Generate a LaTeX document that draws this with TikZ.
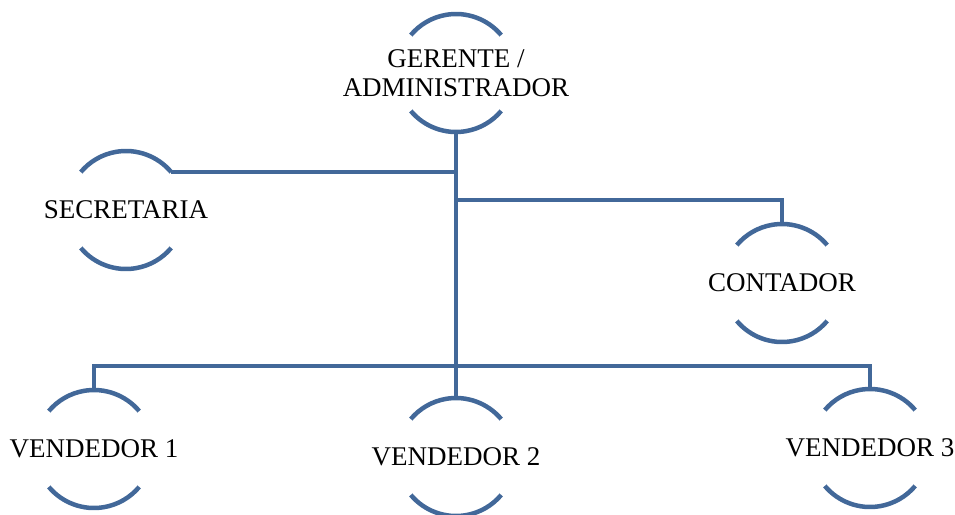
\documentclass[tikz,border=0pt]{standalone}
\usepackage{fontspec}
\setmainfont{Liberation Serif}
\usetikzlibrary{positioning}

\definecolor{azulorg}{RGB}{66,104,153}

\tikzset{
    linea/.style={draw=azulorg, line width=4.5pt},
    persona/.style={circle, minimum size=118pt, inner sep=0pt, outer sep=0pt},
    etiqueta/.style={font=\fontsize{27}{29}\selectfont, align=center, text=black}
}

\begin{document}
\begin{tikzpicture}[x=1pt, y=1pt]
            \useasboundingbox (0,0) rectangle (955,-514);

            \node[persona, label={[etiqueta]center:GERENTE /\\ADMINISTRADOR}] (ger) at (456,-73) {};
            \node[persona, label={[etiqueta]center:SECRETARIA}] (sec) at (126,-210) {};
            \node[persona, label={[etiqueta]center:CONTADOR}] (cont) at (782,-283) {};
            \node[persona, label={[etiqueta]center:VENDEDOR 1}] (v1) at (94,-449) {};
            \node[persona, label={[etiqueta]center:VENDEDOR 2}] (v2) at (456,-457) {};
            \node[persona, label={[etiqueta]center:VENDEDOR 3}] (v3) at (870,-448) {};

            % arcos
            \foreach \n in {ger, sec, cont, v1, v2, v3} {
                \draw[linea] (\n.40) arc[start angle=40, end angle=140, radius=59pt];
                \draw[linea] (\n.220) arc[start angle=220, end angle=320, radius=59pt];
            }

            \coordinate (rama) at (456,-200);
            \coordinate (bus) at (456,-366);

            % tronco
            \draw[linea] (ger.south) -- (bus);

            % gerente-secretaria
            \draw[linea] (sec.40) -- (sec.40 -| ger.south);

            % gerente-contador
            \draw[linea] (rama) -| (cont.north);

            % vendedores
            \draw[linea] (v1.north) -- (v1.north |- bus) -- (v3.north |- bus) -- (v3.north);
            \draw[linea] (bus) -- (v2.north);
\end{tikzpicture}
\end{document}
